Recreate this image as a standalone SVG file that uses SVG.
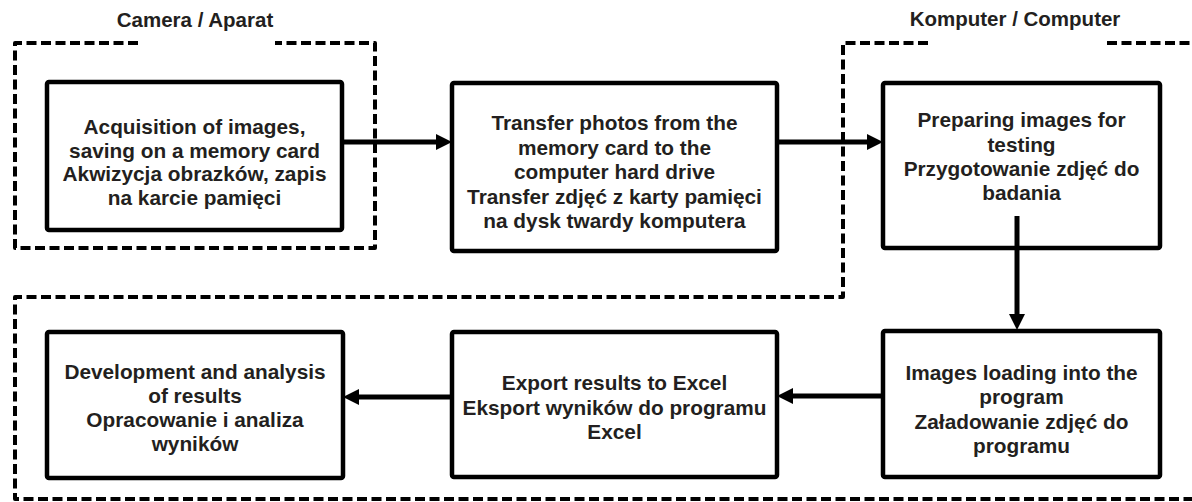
<svg xmlns="http://www.w3.org/2000/svg" width="1192" height="502" viewBox="0 0 1192 502">
  <defs>
    <style>
      .box { fill: #ffffff; stroke: #000000; stroke-width: 4.5; }
      .zone { fill: none; stroke: #000000; stroke-width: 4; stroke-dasharray: 10 4.5; stroke-linejoin: round; }
      .flow { fill: none; stroke: #000000; stroke-width: 5; }
      .lbl { font-family: "Liberation Sans", Arial, sans-serif; font-weight: bold; font-size: 20.8px; fill: #231f20; text-anchor: middle; }
      .title { font-family: "Liberation Sans", Arial, sans-serif; font-weight: bold; font-size: 20.5px; fill: #231f20; text-anchor: middle; }
    </style>
    <marker id="head" viewBox="0 0 16 16" refX="8" refY="8" markerWidth="16" markerHeight="16" markerUnits="userSpaceOnUse" orient="auto">
      <path d="M0,0 L16,8 L0,16 Z" fill="#000000"/>
    </marker>
  </defs>

  <!-- dashed zones -->
  <g id="zones">
    <path class="zone" d="M138,43 H15 V248 H375 V43 H275"/>
    <path class="zone" d="M928,43 H843 V297 H15 V499 H1192"/>
    <path class="zone" d="M1107,43 H1192"/>
    <text class="title" x="195" y="27">Camera / Aparat</text>
    <text class="title" x="1015" y="26">Komputer / Computer</text>
  </g>

  <g id="acquisition">
    <rect class="box" x="47" y="82" width="295" height="148" rx="2"/>
    <text class="lbl" x="194.5" y="134">Acquisition of images,</text>
    <text class="lbl" x="194.5" y="157.5">saving on a memory card</text>
    <text class="lbl" x="194.5" y="181">Akwizycja obrazków, zapis</text>
    <text class="lbl" x="194.5" y="204.5">na karcie pamięci</text>
  </g>

  <g id="transfer">
    <rect class="box" x="452" y="83" width="325" height="168" rx="2"/>
    <text class="lbl" x="614.5" y="130">Transfer photos from the</text>
    <text class="lbl" x="614.5" y="154.5">memory card to the</text>
    <text class="lbl" x="614.5" y="179">computer hard drive</text>
    <text class="lbl" x="614.5" y="203.5">Transfer zdjęć z karty pamięci</text>
    <text class="lbl" x="614.5" y="228">na dysk twardy komputera</text>
  </g>

  <g id="preparing">
    <rect class="box" x="883" y="83" width="277" height="165" rx="2"/>
    <text class="lbl" x="1021.5" y="127">Preparing images for</text>
    <text class="lbl" x="1021.5" y="151.5">testing</text>
    <text class="lbl" x="1021.5" y="176">Przygotowanie zdjęć do</text>
    <text class="lbl" x="1021.5" y="200">badania</text>
  </g>

  <g id="loading">
    <rect class="box" x="883" y="331" width="277" height="146" rx="2"/>
    <text class="lbl" x="1021.5" y="380">Images loading into the</text>
    <text class="lbl" x="1021.5" y="404">program</text>
    <text class="lbl" x="1021.5" y="428.5">Załadowanie zdjęć do</text>
    <text class="lbl" x="1021.5" y="453">programu</text>
  </g>

  <g id="export">
    <rect class="box" x="452" y="332" width="325" height="145" rx="2"/>
    <text class="lbl" x="614.5" y="390">Export results to Excel</text>
    <text class="lbl" x="614.5" y="414.5">Eksport wyników do programu</text>
    <text class="lbl" x="614.5" y="439">Excel</text>
  </g>

  <g id="analysis">
    <rect class="box" x="47" y="332" width="296" height="146" rx="2"/>
    <text class="lbl" x="195" y="379">Development and analysis</text>
    <text class="lbl" x="195" y="403">of results</text>
    <text class="lbl" x="195" y="427">Opracowanie i analiza</text>
    <text class="lbl" x="195" y="451">wyników</text>
  </g>

  <!-- connectors, drawn over the boxes -->
  <g id="connectors">
    <path class="flow" d="M342,142 H444" marker-end="url(#head)"/>
    <path class="flow" d="M777,142 H875" marker-end="url(#head)"/>
    <path class="flow" d="M1017,216 V322" marker-end="url(#head)"/>
    <path class="flow" d="M883,396 H785" marker-end="url(#head)"/>
    <path class="flow" d="M452,397 H351" marker-end="url(#head)"/>
  </g>
</svg>
